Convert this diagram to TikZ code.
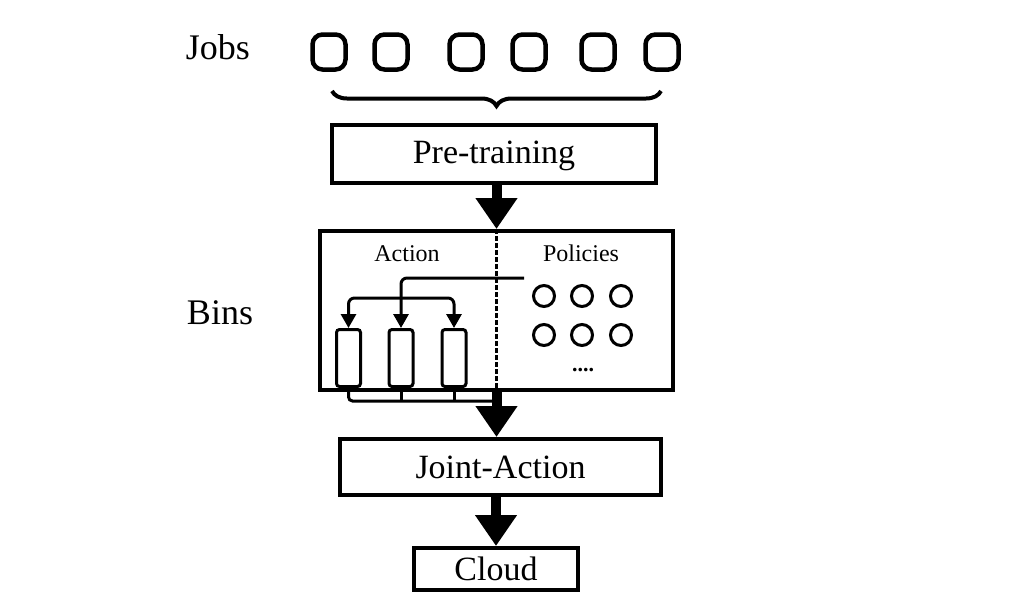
\documentclass[tikz,border=0pt]{standalone}
\usepackage{fontspec}
\setmainfont{Liberation Serif}
\usetikzlibrary{arrows.meta,decorations.pathreplacing}
\begin{document}
\begin{tikzpicture}[x=1pt,y=-1pt,
  job/.style={draw, line width=4.5pt, rounded corners=10pt, minimum width=33pt, minimum height=35pt, inner sep=0pt},
  stage/.style={draw, line width=4pt, inner sep=0pt, font=\fontsize{34}{40}\selectfont},
  bigtext/.style={font=\fontsize{36}{42}\selectfont},
  smalltext/.style={font=\fontsize{24}{28}\selectfont},
  binbox/.style={draw, line width=3pt, rounded corners=3pt, minimum width=24pt, minimum height=57pt, inner sep=0pt},
  pol/.style={draw, circle, line width=3pt, minimum size=21pt, inner sep=0pt},
  bigarrow/.style={line width=10pt, -{Triangle[width=40pt,length=31pt]}},
  smallarrow/.style={line width=3pt, -{Triangle[width=15pt,length=14pt]}},
  link/.style={line width=3pt}
]
\useasboundingbox (0,0) rectangle (1024,600);
% labels
\node[bigtext] (jobs) at (218,47) {Jobs};
\node[bigtext] (binslab) at (220,313) {Bins};
% jobs
\node[job] (j1) at (329,52) {};
\node[job] (j2) at (391,52) {};
\node[job] (j3) at (466,52) {};
\node[job] (j4) at (529,52) {};
\node[job] (j5) at (598,52) {};
\node[job] (j6) at (662,52) {};
\coordinate (bl) at (332,91);
\coordinate (br) at (661,91);
\draw[decorate, decoration={brace, mirror, amplitude=15pt}, line width=4pt] (bl) -- (br);
% stages
\node[stage, minimum width=324pt, minimum height=58pt, text depth=3pt] (pre) at (494,154) {Pre-training};
\node[draw, line width=4pt, minimum width=353pt, minimum height=159pt, inner sep=0pt] (bins) at (496.5,310.5) {};
\node[stage, minimum width=321pt, minimum height=56pt] (joint) at (500.5,467) {Joint-Action};
\node[stage, minimum width=164pt, minimum height=42pt] (cloud) at (496,569) {Cloud};
% inside bins
\node[smalltext] (action) at (407,254) {Action};
\node[smalltext] (policies) at (581,253) {Policies};
\node[binbox] (b1) at (348.5,358) {};
\node[binbox] (b2) at (401,358) {};
\node[binbox] (b3) at (454,358) {};
\node[pol] (c1) at (544,296) {};
\node[pol] (c2) at (582,296) {};
\node[pol] (c3) at (621,296) {};
\node[pol] (c4) at (544,335) {};
\node[pol] (c5) at (582,335) {};
\node[pol] (c6) at (621,335) {};
\node[font=\fontsize{22}{24}\selectfont\bfseries] (dots) at (583,370) {....};
\draw[line width=3pt, dash pattern=on 5pt off 2pt] (bins.north) -- (bins.south);
\coordinate (pstart) at (524,278);
\coordinate (split) at (401,298);
\draw[smallarrow, rounded corners=6pt] (pstart) -| (b2.north);
\draw[line width=3pt, {Triangle[width=15pt,length=14pt]}-{Triangle[width=15pt,length=14pt]}, rounded corners=6pt] (b1.north) |- (split) -| (b3.north);
\coordinate (merge) at (496.5,401);
\draw[link, rounded corners=4pt] (b1.south) |- (merge);
\draw[link] (b2.south) -- (b2.south |- merge);
\draw[link] (b3.south) -- (b3.south |- merge);
% big arrows
\draw[bigarrow] (bins.north |- pre.south) -- (bins.north);
\draw[bigarrow] (bins.south) -- (bins.south |- joint.north);
\draw[bigarrow] (joint.south -| cloud.north) -- (cloud.north);
\end{tikzpicture}
\end{document}
